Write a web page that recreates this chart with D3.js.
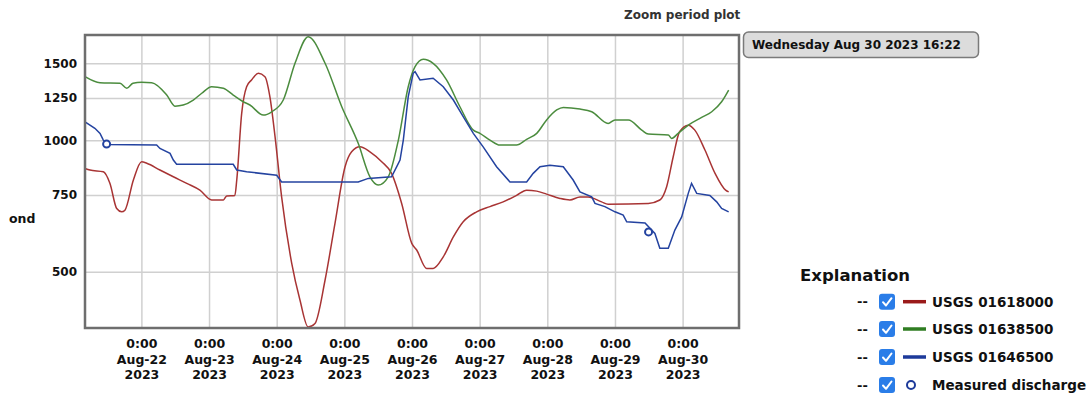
<!DOCTYPE html>
<html>
<head>
<meta charset="utf-8">
<script src="https://cdn.jsdelivr.net/npm/d3@7"></script>
<style>
  body { margin: 0; background: #fff; }
  svg text { font-family: "DejaVu Sans", Verdana, sans-serif; font-weight: bold; }
  .grid line { stroke: #d0d0d0; stroke-width: 1.5; }
  .grid path { display: none; }
</style>
</head>
<body>
<svg id="chart" width="1092" height="394"></svg>
<script>
// discharge, cubic feet per second (time, value)
var usgs01618000 = [
  ["08-21 04:00", 862], ["08-21 05:45", 855], ["08-21 10:30", 847], ["08-21 12:50", 797],
  ["08-21 15:15", 698], ["08-21 17:00", 686], ["08-21 18:10", 692], ["08-21 21:10", 811],
  ["08-22 00:05", 893], ["08-22 01:55", 886], ["08-22 06:35", 855], ["08-22 11:20", 825],
  ["08-22 16:05", 797], ["08-22 20:45", 769], ["08-23 00:55", 730], ["08-23 05:05", 730],
  ["08-23 06:15", 746], ["08-23 09:10", 748], ["08-23 09:50", 811], ["08-23 11:35", 1152],
  ["08-23 13:20", 1326], ["08-23 15:05", 1374], ["08-23 17:30", 1423], ["08-23 19:50", 1398],
  ["08-23 21:35", 1258], ["08-23 23:25", 1019], ["08-24 01:45", 742], ["08-24 05:20", 523],
  ["08-24 08:15", 431], ["08-24 11:10", 374], ["08-24 13:35", 381], ["08-24 17:10", 479],
  ["08-24 20:40", 645], ["08-25 00:15", 870], ["08-25 02:35", 941], ["08-25 05:30", 966],
  ["08-25 09:05", 941], ["08-25 13:15", 893], ["08-25 16:45", 840], ["08-25 20:20", 717],
  ["08-25 23:55", 581], ["08-26 01:40", 561], ["08-26 05:10", 509], ["08-26 07:30", 509],
  ["08-26 11:05", 541], ["08-26 14:40", 601], ["08-26 18:10", 651], ["08-26 22:55", 686],
  ["08-27 03:40", 705], ["08-27 08:20", 723], ["08-27 13:05", 748], ["08-27 16:40", 769],
  ["08-27 20:15", 765], ["08-27 23:45", 753], ["08-28 04:30", 736], ["08-28 08:00", 730],
  ["08-28 11:35", 742], ["08-28 14:30", 742], ["08-28 19:15", 723], ["08-28 21:35", 714],
  ["08-29 11:50", 717], ["08-29 15:55", 730], ["08-29 18:20", 783], ["08-29 20:40", 917],
  ["08-29 22:55", 1046], ["08-30 02:00", 1083], ["08-30 04:20", 1055], ["08-30 07:55", 950],
  ["08-30 11:30", 840], ["08-30 15:15", 769], ["08-30 16:20", 762]
];
var usgs01638500 = [
  ["08-21 04:00", 1398], ["08-21 09:20", 1354], ["08-21 16:25", 1350], ["08-21 18:50", 1315],
  ["08-21 21:00", 1350], ["08-22 00:05", 1357], ["08-22 03:40", 1354], ["08-22 09:00", 1269],
  ["08-22 11:55", 1197], ["08-22 14:50", 1204], ["08-22 18:25", 1236], ["08-22 21:25", 1281],
  ["08-23 00:55", 1326], ["08-23 05:05", 1315], ["08-23 08:35", 1269], ["08-23 12:10", 1225],
  ["08-23 14:30", 1204], ["08-23 19:15", 1142], ["08-23 22:15", 1162], ["08-24 02:20", 1236],
  ["08-24 06:30", 1500], ["08-24 11:10", 1726], ["08-24 17:10", 1500], ["08-24 23:05", 1193],
  ["08-25 04:55", 984], ["08-25 09:05", 825], ["08-25 12:00", 790], ["08-25 15:35", 825],
  ["08-25 19:10", 1001], ["08-25 22:40", 1326], ["08-26 01:05", 1473], ["08-26 04:00", 1532],
  ["08-26 07:30", 1500], ["08-26 12:15", 1374], ["08-26 17:00", 1193], ["08-26 21:45", 1055],
  ["08-27 00:05", 1037], ["08-27 03:40", 1001], ["08-27 07:10", 975], ["08-27 13:05", 975],
  ["08-27 16:40", 1005], ["08-27 20:15", 1037], ["08-27 23:45", 1113], ["08-28 03:20", 1173],
  ["08-28 05:40", 1189], ["08-28 11:35", 1179], ["08-28 15:45", 1162], ["08-28 21:35", 1093],
  ["08-29 00:00", 1113], ["08-29 04:45", 1113], ["08-29 09:30", 1055], ["08-29 11:50", 1033],
  ["08-29 18:55", 1028], ["08-29 20:05", 1010], ["08-29 22:25", 1037], ["08-30 02:00", 1083],
  ["08-30 06:45", 1128], ["08-30 10:20", 1162], ["08-30 13:50", 1225], ["08-30 16:20", 1303]
];
var usgs01646500 = [
  ["08-21 04:00", 1102], ["08-21 07:30", 1065], ["08-21 09:20", 1037], ["08-21 10:30", 1001],
  ["08-21 11:40", 978], ["08-22 05:25", 975], ["08-22 06:35", 958], ["08-22 10:10", 933],
  ["08-22 11:20", 901], ["08-22 12:30", 881], ["08-23 08:35", 881], ["08-23 09:50", 855],
  ["08-23 13:20", 847], ["08-24 00:00", 832], ["08-24 01:45", 803], ["08-25 04:55", 803],
  ["08-25 08:30", 818], ["08-25 16:45", 825], ["08-25 18:35", 870], ["08-25 19:45", 901],
  ["08-25 20:55", 1001], ["08-25 22:40", 1258], ["08-26 00:25", 1423], ["08-26 01:05", 1435],
  ["08-26 02:50", 1374], ["08-26 07:30", 1386], ["08-26 11:05", 1326], ["08-26 14:40", 1236],
  ["08-26 18:10", 1132], ["08-26 21:45", 1037], ["08-27 01:15", 966], ["08-27 06:00", 870],
  ["08-27 10:45", 803], ["08-27 16:40", 803], ["08-27 19:00", 840], ["08-27 21:25", 870],
  ["08-28 00:55", 877], ["08-28 05:40", 870], ["08-28 09:10", 811], ["08-28 11:35", 762],
  ["08-28 15:45", 742], ["08-28 16:55", 717], ["08-28 20:25", 705], ["08-29 00:00", 686],
  ["08-29 02:55", 674], ["08-29 04:10", 651], ["08-29 10:40", 647], ["08-29 14:10", 612],
  ["08-29 15:55", 566], ["08-29 18:55", 566], ["08-29 21:15", 623], ["08-29 23:40", 668],
  ["08-30 02:00", 756], ["08-30 03:10", 797], ["08-30 05:00", 756], ["08-30 09:40", 748],
  ["08-30 12:05", 723], ["08-30 13:50", 698], ["08-30 16:20", 686]
];
var measured = [["08-21 11:40", 980], ["08-29 11:55", 617]];

var yTicks = [500, 750, 1000, 1250, 1500];
var seriesNames = ["USGS 01618000", "USGS 01638500", "USGS 01646500", "Measured discharge"];
var seriesColors = ["#a83434", "#4b8c3e", "#2443a0", "#2443a0"];
var legendColors = ["#9a1a1a", "#2f7d22", "#1d3a9a", "#1d3a9a"];

var parse = d3.timeParse("%Y-%m-%d %H:%M");
function toPoints(arr) {
  return arr.map(function(d) { return {t: parse("2023-" + d[0]), v: d[1]}; });
}

var svg = d3.select("#chart");
var plotL = 85, plotR = 739, plotT = 35, plotB = 328;

var x = d3.scaleTime()
  .domain([parse("2023-08-21 04:00"), parse("2023-08-30 20:00")])
  .range([plotL, plotR]);
var y = d3.scaleLog()
  .domain([372, 1741])
  .range([plotB, plotT]);

// plot background
svg.append("rect")
  .attr("x", plotL).attr("y", plotT)
  .attr("width", plotR - plotL).attr("height", plotB - plotT)
  .attr("fill", "#fff");

// horizontal grid + y labels
var yAxis = svg.append("g")
  .attr("class", "grid")
  .attr("transform", "translate(" + plotL + ",0)")
  .call(d3.axisLeft(y).tickValues(yTicks).tickSize(-(plotR - plotL)).tickPadding(8).tickFormat(d3.format("d")));
yAxis.selectAll("text").attr("font-size", 12).attr("fill", "#111");

// vertical grid + x labels
var days = d3.timeDay.range(parse("2023-08-22 00:00"), parse("2023-08-30 12:00"));
var xAxis = svg.append("g")
  .attr("class", "grid")
  .attr("transform", "translate(0," + plotB + ")")
  .call(d3.axisBottom(x).tickValues(days).tickSize(-(plotB - plotT)).tickFormat(""));
xAxis.selectAll(".tick").each(function(d) {
  var t = d3.select(this).append("text")
    .attr("fill", "#111").attr("font-size", 12.5).attr("text-anchor", "middle");
  t.append("tspan").attr("x", 0).attr("y", 20).text(d3.timeFormat("%-H:%M")(d));
  t.append("tspan").attr("x", 0).attr("y", 35.5).text(d3.timeFormat("%b-%d")(d));
  t.append("tspan").attr("x", 0).attr("y", 51).text(d3.timeFormat("%Y")(d));
});

// series lines
var smooth = d3.line().x(function(d) { return x(d.t); }).y(function(d) { return y(d.v); }).curve(d3.curveMonotoneX);
var straight = d3.line().x(function(d) { return x(d.t); }).y(function(d) { return y(d.v); });

svg.append("path").attr("d", smooth(toPoints(usgs01618000)))
  .attr("fill", "none").attr("stroke", seriesColors[0]).attr("stroke-width", 1.5);
svg.append("path").attr("d", smooth(toPoints(usgs01638500)))
  .attr("fill", "none").attr("stroke", seriesColors[1]).attr("stroke-width", 1.5);
svg.append("path").attr("d", straight(toPoints(usgs01646500)))
  .attr("fill", "none").attr("stroke", seriesColors[2]).attr("stroke-width", 1.5);

svg.selectAll(".meas").data(toPoints(measured)).enter().append("circle")
  .attr("cx", function(d) { return x(d.t); })
  .attr("cy", function(d) { return y(d.v); })
  .attr("r", 3.5)
  .attr("fill", "#fff").attr("stroke", seriesColors[3]).attr("stroke-width", 2);

// frame
svg.append("rect")
  .attr("x", plotL).attr("y", plotT)
  .attr("width", plotR - plotL).attr("height", plotB - plotT)
  .attr("fill", "none").attr("stroke", "#6e6e6e").attr("stroke-width", 2.5);

// cut-off axis title
svg.append("text").attr("x", 9).attr("y", 223).attr("font-size", 12.5).attr("fill", "#111").text("ond");

// title
svg.append("text").attr("x", 624).attr("y", 19).attr("font-size", 12).attr("fill", "#333").text("Zoom period plot");

// date box
svg.append("rect").attr("x", 743.5).attr("y", 32).attr("width", 235).attr("height", 25.5).attr("rx", 5)
  .attr("fill", "#dcdcdc").attr("stroke", "#7a7a7a").attr("stroke-width", 1.5);
svg.append("text").attr("x", 752).attr("y", 49).attr("font-size", 12).attr("fill", "#111")
  .text("Wednesday Aug 30 2023 16:22");

// legend
svg.append("text").attr("x", 800).attr("y", 280.5).attr("font-size", 16.5).attr("fill", "#111").text("Explanation");
var rowY = [301.7, 329, 357, 385];
var rows = svg.selectAll(".leg").data(seriesNames).enter().append("g")
  .attr("transform", function(d, i) { return "translate(0," + rowY[i] + ")"; });
rows.append("text").attr("x", 857).attr("y", 4.5).attr("font-size", 13).attr("fill", "#111").text("--");
rows.append("rect").attr("x", 879).attr("y", -8).attr("width", 16).attr("height", 16).attr("rx", 3)
  .attr("fill", "#2a7de8");
rows.append("path").attr("d", "M883,0.5 L886,3.8 L891.5,-3.5")
  .attr("fill", "none").attr("stroke", "#fff").attr("stroke-width", 2).attr("stroke-linecap", "round").attr("stroke-linejoin", "round");
rows.filter(function(d, i) { return i < 3; }).append("line")
  .attr("x1", 903).attr("x2", 926).attr("y1", 0).attr("y2", 0)
  .attr("stroke", function(d, i) { return legendColors[i]; }).attr("stroke-width", 3.5);
rows.filter(function(d, i) { return i == 3; }).append("circle")
  .attr("cx", 911).attr("cy", 0).attr("r", 4).attr("fill", "#fff")
  .attr("stroke", legendColors[3]).attr("stroke-width", 2);
rows.append("text").attr("x", 932).attr("y", 5).attr("font-size", 13.5).attr("fill", "#111").text(function(d) { return d; });
</script>
</body>
</html>
